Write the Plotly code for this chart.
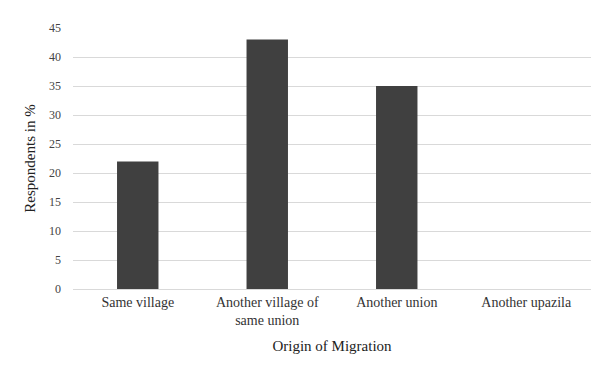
import plotly.graph_objects as go

categories = ["Same village", "Another village of<br>same union", "Another union", "Another upazila"]
respondents_pct = [22, 43, 35, 0]
y_ticks = [0, 5, 10, 15, 20, 25, 30, 35, 40, 45]

fig = go.Figure(
    go.Bar(
        x=categories,
        y=respondents_pct,
        marker=dict(color="#404040", line=dict(width=0)),
    )
)

font_family = "'Liberation Serif', 'Times New Roman', Times, serif"

fig.update_layout(
    width=595,
    height=369,
    margin=dict(l=73, r=4, t=28, b=80),
    paper_bgcolor="white",
    plot_bgcolor="white",
    bargap=0.68,
    showlegend=False,
    font=dict(family=font_family, size=12, color="#333333"),
    xaxis=dict(
        title=dict(text="Origin of Migration", font=dict(family=font_family, size=15, color="#222222"), standoff=13),
        tickfont=dict(family=font_family, size=14, color="#333333"),
        showgrid=False,
        showline=True,
        linecolor="#d9d9d9",
        linewidth=1,
        ticks="",
    ),
    yaxis=dict(
        title=dict(text="Respondents in %", font=dict(family=font_family, size=15, color="#222222"), standoff=9),
        range=[0, 45],
        tickvals=y_ticks,
        tickfont=dict(family=font_family, size=12, color="#444444"),
        ticklabelstandoff=11,
        showgrid=True,
        gridcolor="#d9d9d9",
        gridwidth=1,
        zeroline=False,
        showline=False,
        ticks="",
    ),
)

fig.write_html("out.html")
